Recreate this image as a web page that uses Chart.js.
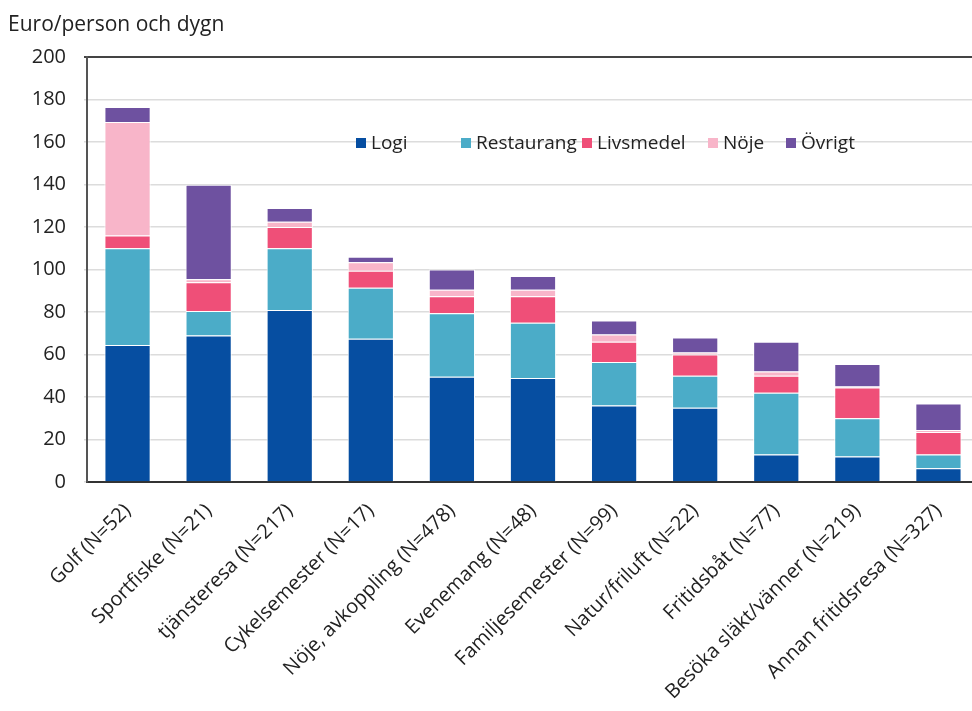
<!DOCTYPE html>
<html>
<head>
<meta charset="utf-8">
<script src="https://cdn.jsdelivr.net/npm/chart.js@4"></script>
<style>
  html, body { margin: 0; padding: 0; background: #fff; overflow: hidden; }
  #wrap { position: relative; width: 980px; height: 711px; }
  #legend { position: absolute; left: 0; top: 129px; width: 980px; height: 30px; font-family: "Open Sans", sans-serif; font-size: 19px; color: #222; }
  #legend span.item { position: absolute; top: 0; white-space: nowrap; }
  #legend i { display: inline-block; width: 10px; height: 10px; margin-right: 5px; vertical-align: 1px; }
</style>
</head>
<body>
<div id="wrap">
  <canvas id="myChart" width="980" height="711"></canvas>
  <div id="legend"></div>
</div>
<script>
// kategorier och värden (euro/person och dygn)
const categories = ['Golf (N=52)', 'Sportfiske (N=21)', 'tjänsteresa (N=217)', 'Cykelsemester (N=17)',
  'Nöje, avkoppling (N=478)', 'Evenemang (N=48)', 'Familjesemester (N=99)', 'Natur/friluft (N=22)',
  'Fritidsbåt (N=77)', 'Besöka släkt/vänner (N=219)', 'Annan fritidsresa (N=327)'];

const logi       = [64.5, 69, 81, 67.5, 49.5, 49, 36, 35, 13, 12, 6.5];
const restaurang = [45.5, 11.5, 29, 24, 30, 26, 20.5, 15, 29, 18, 6.5];
const livsmedel  = [6, 13.5, 10, 8, 8, 12.5, 9.5, 10, 8, 14.5, 10.5];
const noje       = [53.5, 1.5, 2.5, 4, 3, 3, 3.5, 1, 2, 0.5, 1];
const ovrigt     = [7, 44.5, 6.5, 2.5, 9.5, 6.5, 6.5, 7, 14, 10.5, 12.5];

const yTicks = [0, 20, 40, 60, 80, 100, 120, 140, 160, 180, 200];

const series = [
  { label: 'Logi', data: logi, color: '#064ea1' },
  { label: 'Restaurang', data: restaurang, color: '#4bacc8' },
  { label: 'Livsmedel', data: livsmedel, color: '#ef4f78' },
  { label: 'Nöje', data: noje, color: '#f8b5c9' },
  { label: 'Övrigt', data: ovrigt, color: '#6e51a0' }
];

// legend som html, placerad inne i diagramytan
const legendX = [356, 461, 582, 708, 786];
const legend = document.getElementById('legend');
series.forEach((s, i) => {
  legend.innerHTML += '<span class="item" style="left:' + legendX[i] + 'px"><i style="background:' + s.color + '"></i>' + s.label + '</span>';
});

const data = {
  labels: categories,
  datasets: series.map(s => ({
    label: s.label,
    data: s.data,
    backgroundColor: s.color,
    borderColor: '#ffffff',
    borderWidth: 1,
    barPercentage: 0.57,
    categoryPercentage: 1
  }))
};

const config = {
  type: 'bar',
  data: data,
  options: {
    responsive: false,
    animation: false,
    layout: { padding: { left: 8, right: 1, top: 0, bottom: 0 } },
    plugins: {
      legend: { display: false },
      tooltip: { enabled: false },
      title: {
        display: true,
        text: 'Euro/person och dygn',
        align: 'start',
        color: '#222',
        font: { family: 'Open Sans', size: 21, weight: 'normal' },
        padding: { top: 12, bottom: 20 }
      }
    },
    scales: {
      x: {
        stacked: true,
        grid: { display: false },
        border: { color: '#333', width: 2 },
        ticks: {
          color: '#222',
          font: { family: 'Open Sans', size: 20 },
          minRotation: 45,
          maxRotation: 45,
          padding: 9
        },
        afterFit: s => { s.height = 229; }
      },
      y: {
        stacked: true,
        min: 0,
        max: 200,
        afterBuildTicks: s => { s.ticks = yTicks.map(v => ({ value: v })); },
        grid: {
          color: c => c.tick && c.tick.value === 200 ? '#444' : '#dcdcdc',
          lineWidth: c => c.tick && c.tick.value === 200 ? 2 : 1.5,
          tickLength: 3
        },
        border: { color: '#555', width: 2 },
        ticks: {
          color: '#222',
          font: { family: 'Open Sans', size: 20 },
          padding: 18
        },
        afterFit: s => { s.width = 79; }
      }
    }
  }
};

const myChart = new Chart(document.getElementById('myChart'), config);
</script>
</body>
</html>
